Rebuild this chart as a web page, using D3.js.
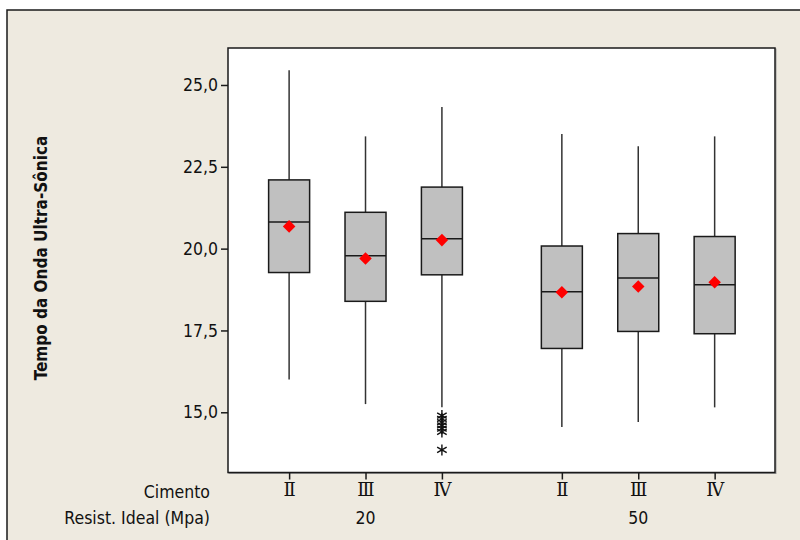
<!DOCTYPE html>
<html>
<head>
<meta charset="utf-8">
<script src="https://cdn.jsdelivr.net/npm/d3@7"></script>
<style>
  html, body { margin: 0; padding: 0; background: #ffffff; }
  svg { display: block; }
</style>
</head>
<body>
<svg id="chart" width="800" height="540"></svg>
<script>
// Ultrasonic pulse time by cement type and target strength
const cimento      = ["Ⅱ", "Ⅲ", "Ⅳ", "Ⅱ", "Ⅲ", "Ⅳ"];
const resistencia  = ["20", "20", "20", "50", "50", "50"];
const whiskerLow   = [16.00, 15.25, 15.15, 14.55, 14.70, 15.15];
const q1           = [19.27, 18.39, 19.20, 16.95, 17.47, 17.40];
const mediana      = [20.81, 19.78, 20.30, 18.68, 19.10, 18.90];
const q3           = [22.10, 21.11, 21.88, 20.08, 20.46, 20.37];
const whiskerHigh  = [25.45, 23.43, 24.33, 23.50, 23.13, 23.43];
const media        = [20.68, 19.70, 20.26, 18.67, 18.84, 18.97];
const outliers     = [
  { cat: 2, value: 14.9 }, { cat: 2, value: 14.8 }, { cat: 2, value: 14.7 },
  { cat: 2, value: 14.6 }, { cat: 2, value: 14.5 }, { cat: 2, value: 14.4 },
  { cat: 2, value: 13.85 }
];
const yTicks = [15, 17.5, 20, 22.5, 25];
const groups = ["20", "50"];

const svg = d3.select("#chart");
const W = 800, H = 540;
const plot = { left: 228, top: 48, right: 775, bottom: 472.5 };
const groupGap = 0.57;

// outer panel
svg.append("rect").attr("x", 7).attr("y", 10).attr("width", W + 10).attr("height", H + 10)
  .attr("fill", "#eeeae0").attr("stroke", "#1a1a1a").attr("stroke-width", 1.5);

// category slot positions: consecutive within a group, extra gap between groups
const groupIndex = resistencia.map(r => groups.indexOf(r));
const slot = cimento.map((c, i) => i + 1 + groupIndex[i] * groupGap);

const x = d3.scaleLinear().domain([0.2, 7.36]).range([plot.left, plot.right]);
const y = d3.scaleLinear().domain([13.16, 26.13]).range([plot.bottom, plot.top]);

// plot area
svg.append("rect").attr("x", plot.left + 1).attr("y", plot.top + 1)
  .attr("width", plot.right - plot.left).attr("height", plot.bottom - plot.top)
  .attr("fill", "none").attr("stroke", "#9a9a9a").attr("stroke-width", 1);
svg.append("rect").attr("x", plot.left).attr("y", plot.top)
  .attr("width", plot.right - plot.left).attr("height", plot.bottom - plot.top)
  .attr("fill", "#ffffff").attr("stroke", "#1a1a1a").attr("stroke-width", 1.5);

const fmt = v => d3.format(".1f")(v).replace(".", ",");
const labelFont = "Tahoma, 'DejaVu Sans Condensed', 'Liberation Sans', sans-serif";
const labelSize = "17.5px";

// y axis
const yAxis = d3.axisLeft(y).tickValues(yTicks).tickFormat(fmt).tickSize(7).tickPadding(3);
const gy = svg.append("g").attr("transform", `translate(${plot.left},0)`).call(yAxis);
gy.select(".domain").remove();
gy.selectAll(".tick line").attr("stroke", "#1a1a1a").attr("stroke-width", 1.5);
gy.selectAll(".tick text").attr("fill", "#111").style("font-family", labelFont).style("font-size", labelSize);

// x axis ticks with cement labels
const xAxis = d3.axisBottom(x).tickValues(slot).tickFormat((d, i) => cimento[i]).tickSize(7).tickPadding(4);
const gx = svg.append("g").attr("transform", `translate(0,${plot.bottom})`).call(xAxis);
gx.select(".domain").remove();
gx.selectAll(".tick line").attr("stroke", "#1a1a1a").attr("stroke-width", 1.5);
gx.selectAll(".tick text").attr("fill", "#111")
  .style("font-family", "'DejaVu Serif', 'Liberation Serif', serif").style("font-size", "18px");

// group labels centred under each group
groups.forEach((g, gi) => {
  const idx = d3.range(cimento.length).filter(i => groupIndex[i] === gi);
  const cx = d3.mean(idx, i => x(slot[i]));
  svg.append("text").attr("x", cx).attr("y", 524).attr("text-anchor", "middle")
    .attr("fill", "#111").style("font-family", labelFont).style("font-size", labelSize).text(g);
});

// row titles
svg.append("text").attr("x", 210).attr("y", 498).attr("text-anchor", "end")
  .attr("fill", "#111").style("font-family", labelFont).style("font-size", labelSize).text("Cimento");
svg.append("text").attr("x", 210).attr("y", 524).attr("text-anchor", "end")
  .attr("fill", "#111").style("font-family", labelFont).style("font-size", labelSize).text("Resist. Ideal (Mpa)");

// y title
svg.append("text").attr("transform", "translate(47,258) rotate(-90)").attr("text-anchor", "middle")
  .attr("fill", "#111").style("font-family", labelFont).style("font-weight", "bold").style("font-size", "17px")
  .text("Tempo da Onda Ultra-Sônica");

// boxes
const boxW = 41;
const boxes = svg.append("g");
cimento.forEach((c, i) => {
  const cx = x(slot[i]);
  const g = boxes.append("g");
  g.append("line").attr("x1", cx).attr("x2", cx).attr("y1", y(whiskerHigh[i])).attr("y2", y(q3[i]))
    .attr("stroke", "#333").attr("stroke-width", 1.5);
  g.append("line").attr("x1", cx).attr("x2", cx).attr("y1", y(q1[i])).attr("y2", y(whiskerLow[i]))
    .attr("stroke", "#333").attr("stroke-width", 1.5);
  g.append("rect").attr("x", cx - boxW / 2).attr("y", y(q3[i]))
    .attr("width", boxW).attr("height", y(q1[i]) - y(q3[i]))
    .attr("fill", "#c0c0c0").attr("stroke", "#1a1a1a").attr("stroke-width", 1.5);
  g.append("line").attr("x1", cx - boxW / 2).attr("x2", cx + boxW / 2)
    .attr("y1", y(mediana[i])).attr("y2", y(mediana[i]))
    .attr("stroke", "#1a1a1a").attr("stroke-width", 1.5);
});

// outliers
svg.append("g").selectAll("path").data(outliers).join("path")
  .attr("transform", d => `translate(${x(slot[d.cat])},${y(d.value)})`)
  .attr("d", d3.symbol(d3.symbolAsterisk, 85))
  .attr("fill", "none").attr("stroke", "#111").attr("stroke-width", 1.4);

// mean markers
svg.append("g").selectAll("path").data(media).join("path")
  .attr("transform", (d, i) => `translate(${x(slot[i])},${y(d)})`)
  .attr("d", d3.symbol(d3.symbolDiamond2, 100))
  .attr("fill", "#ff0000").attr("stroke", "none");
</script>
</body>
</html>
